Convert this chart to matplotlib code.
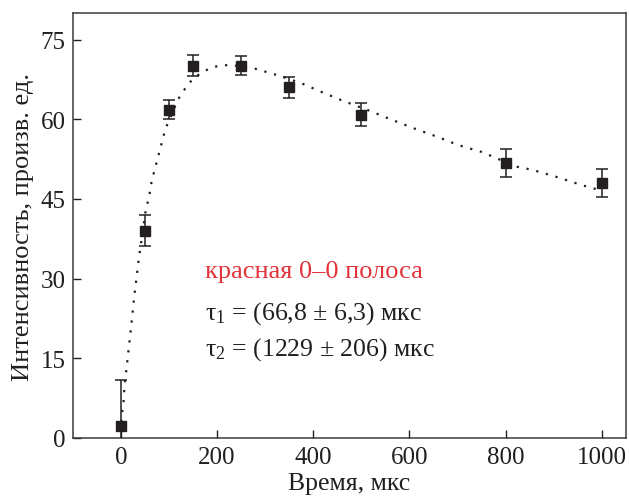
import numpy as np
import matplotlib
matplotlib.use('Agg')
import matplotlib.pyplot as plt

plt.rcParams['font.family'] = ['Liberation Serif', 'DejaVu Serif']
plt.rcParams['mathtext.fontset'] = 'custom'
plt.rcParams['mathtext.rm'] = 'Liberation Serif'
plt.rcParams['mathtext.it'] = 'Liberation Serif:italic'
plt.rcParams['mathtext.default'] = 'regular'

# Measured intensity vs delay
time_us = [0, 50, 100, 150, 250, 350, 500, 800, 1000]
intensity = [2.2, 39.0, 61.8, 70.1, 70.1, 66.0, 60.9, 51.8, 48.0]
intensity_err = [8.7, 2.9, 1.8, 2.0, 1.8, 1.9, 2.2, 2.6, 2.7]

# Two-exponential fit curve (sampled)
fit_t = [1, 2.7, 5.5, 7.6, 11.8, 16, 20, 24, 27.7, 32.5, 36.7, 52.5, 58, 64,
         92.7, 114, 122, 133, 144, 157, 172, 188, 205, 223, 250, 276, 293,
         309, 326, 375, 413, 461, 523, 558, 606, 655, 703, 752, 821, 855,
         904, 952, 973, 1000]
fit_y = [3.0, 4.8, 6.4, 9.8, 13.1, 16.5, 19.8, 23.2, 26.5, 30.0, 33.3, 43.3,
         45.0, 48.3, 58.2, 62.7, 64.2, 65.7, 67.0, 68.1, 69.0, 69.7, 70.1,
         70.2, 70.0, 69.6, 69.2, 68.7, 68.3, 66.8, 65.3, 63.5, 61.4, 60.1,
         58.4, 56.8, 55.1, 53.8, 51.1, 50.5, 49.2, 47.8, 47.2, 46.6]

band_label = 'красная 0–0 полоса'
tau_labels = ['τ$_1$ = (66,8 ± 6,3) мкс', 'τ$_2$ = (1229 ± 206) мкс']

ink = '#231f20'

fig = plt.figure(figsize=(6.29, 5.02), dpi=100)
ax = fig.add_axes([0.1156, 0.1255, 0.8796, 0.8465])

ax.plot(fit_t, fit_y, linestyle=(0, (1, 3.5)), color=ink, linewidth=1.6, zorder=2)
ax.errorbar(time_us, intensity, yerr=intensity_err, fmt='s', color=ink,
            markersize=6.5, capsize=4, elinewidth=1.1, capthick=1.1, zorder=3)

ax.set_xlim(-100, 1050)
ax.set_ylim(0, 80)
ax.set_xticks([0, 200, 400, 600, 800, 1000])
ax.set_yticks([0, 15, 30, 45, 60, 75])
ax.tick_params(direction='in', length=6, width=1, labelsize=18, colors=ink,
               top=False, right=False)
ax.tick_params(axis='x', pad=6)
ax.tick_params(axis='y', pad=5)
for s in ax.spines.values():
    s.set_color('#3a3a3a')
    s.set_linewidth(1.1)

ax.set_xlabel('Время, мкс', fontsize=18.5, color=ink, labelpad=3)
ax.set_ylabel('Интенсивность, произв. ед.', fontsize=19, color=ink, labelpad=5)

ax.text(176, 31.5, band_label, fontsize=19, color='#e2323a', va='center')
ax.text(176, 23.7, tau_labels[0], fontsize=18.5, color=ink, va='center')
ax.text(176, 16.9, tau_labels[1], fontsize=18.5, color=ink, va='center')

fig.savefig('out.png', dpi=100)
